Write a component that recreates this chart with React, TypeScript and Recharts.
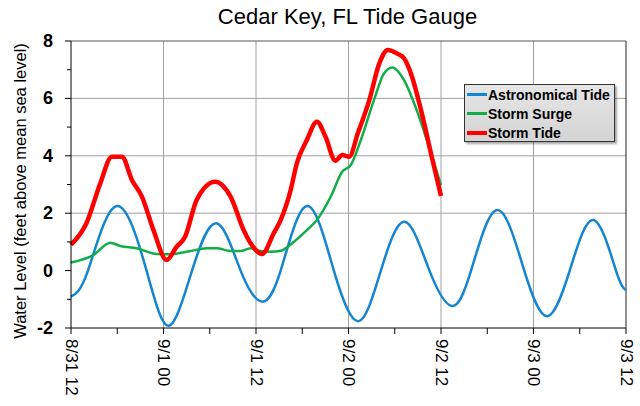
import React from 'react';
import { LineChart, Line, XAxis, YAxis, ReferenceLine } from 'recharts';

// hours after 8/31 12:00
const xTicks = [0, 6, 12, 18, 24, 30, 36, 42, 48, 54, 60, 66, 72];
const xTickLabels: { [h: number]: string } = {
  0: '8/31 12', 12: '9/1 00', 24: '9/1 12', 36: '9/2 00', 48: '9/2 12', 60: '9/3 00', 72: '9/3 12',
};
const yTicks = [-2, -1, 0, 1, 2, 3, 4, 5, 6, 7, 8];
const yGrid = [2, 4, 6];
const xGrid = [12, 24, 36, 48, 60];

const astroHours = [0, 2.2, 5.9, 9.8, 12.7, 15.7, 18.9, 22, 24.7, 27.2, 30.6, 34.1, 37.3, 40.2, 43.3, 46.5, 49.4, 51.9, 55.3, 58.8, 61.8, 64.7, 67.8, 70.7, 72];
const astroLevel = [-0.91, 0, 2.25, 0, -1.92, 0, 1.65, 0, -1.08, 0, 2.25, 0, -1.76, 0, 1.7, 0, -1.23, 0, 2.11, 0, -1.59, 0, 1.76, 0, -0.68];

const surgeHours = [0, 2.9, 5.1, 6.4, 8.5, 11.1, 12.9, 15.5, 17.6, 18.9, 20.7, 22, 23.3, 24.6, 25.9, 27.2, 28.9, 30.6, 31.9, 33.7, 35.2, 36.3, 37.6, 39.3, 40.6, 41.7, 43.2, 45, 46.7, 48];
const surgeLevel = [0.28, 0.54, 0.97, 0.86, 0.78, 0.58, 0.57, 0.68, 0.78, 0.78, 0.68, 0.68, 0.78, 0.68, 0.66, 0.69, 1.0, 1.41, 1.76, 2.58, 3.45, 3.68, 4.55, 5.94, 6.87, 7.08, 6.64, 5.48, 4.09, 2.98];

const stormHours = [0, 2, 3.8, 5.3, 6.6, 7.9, 9.2, 10.7, 12.4, 13.7, 14.8, 16.3, 18.7, 20.7, 22.4, 23.3, 24.8, 26.3, 27.2, 28.5, 29.3, 30.6, 31.9, 33, 34.3, 35.2, 36.1, 37.2, 38.7, 40, 41.1, 42.4, 43.2, 44.1, 45.4, 46.9, 48];
const stormLevel = [0.9, 1.65, 3.04, 3.97, 3.97, 3.16, 2.58, 1.41, 0.37, 0.83, 1.18, 2.46, 3.1, 2.58, 1.41, 0.95, 0.58, 1.3, 1.76, 2.81, 3.74, 4.55, 5.19, 4.67, 3.83, 4.03, 3.97, 4.78, 5.94, 7.22, 7.69, 7.55, 7.4, 6.87, 5.6, 3.85, 2.6];

const toRows = (hours: number[], vals: number[]) => hours.map((h, i) => ({ h, v: vals[i] }));

const series = [
  { name: 'Astronomical Tide', color: '#1485d2', width: 2.5, curve: 'natural', data: toRows(astroHours, astroLevel) },
  { name: 'Storm Surge', color: '#10ad48', width: 2.5, curve: 'monotone', data: toRows(surgeHours, surgeLevel) },
  { name: 'Storm Tide', color: '#ff0000', width: 4.5, curve: 'monotone', data: toRows(stormHours, stormLevel) },
];

const FONT = '"Liberation Sans", Arial, sans-serif';

const XTick = (props: any) => {
  const { x, y, payload } = props;
  const label = xTickLabels[payload.value];
  return (
    <g>
      <line x1={x} y1={y} x2={x} y2={y + 6} stroke="#000" strokeWidth={1} />
      {label && (
        <text x={x} y={y + 11} transform={`rotate(90, ${x}, ${y + 11})`} textAnchor="start"
          dominantBaseline="central" fontSize={17} fontFamily={FONT} fill="#000">
          {label}
        </text>
      )}
    </g>
  );
};

const YTick = (props: any) => {
  const { x, y, payload } = props;
  const major = payload.value % 2 === 0;
  return (
    <g>
      <line x1={x} y1={y} x2={x - (major ? 6 : 4)} y2={y} stroke="#000" strokeWidth={1} />
      {major && (
        <text x={x - 18} y={y} textAnchor="end" dominantBaseline="central" fontSize={18}
          fontWeight="bold" fontFamily={FONT} fill="#000">
          {payload.value}
        </text>
      )}
    </g>
  );
};

const LegendBox = () => (
  <div style={{
    position: 'absolute', left: 464, top: 84, zIndex: 2,
    width: 151, height: 58, boxSizing: 'border-box', border: '1px solid #333',
    background: 'linear-gradient(#e6e6e6, #d4d4d4)', boxShadow: '2px 2px 2px rgba(0,0,0,0.35)',
    padding: '0 0 0 2px', fontFamily: FONT, fontSize: 14, fontWeight: 'bold', color: '#000',
  }}>
    {series.map((s) => (
      <div key={s.name} style={{ display: 'flex', alignItems: 'center', height: 19 }}>
        <span style={{ display: 'inline-block', width: 20, height: s.width > 3 ? 4 : 2.5, background: s.color }} />
        <span style={{ marginLeft: 1 }}>{s.name}</span>
      </div>
    ))}
  </div>
);

export default function App() {
  return (
    <div style={{ position: 'absolute', left: 0, top: 0, width: 640, height: 406, background: '#fff' }}>
      <div style={{ position: 'absolute', left: 0, top: 4, width: 695, textAlign: 'center', fontFamily: FONT, fontSize: 22, color: '#000' }}>
        Cedar Key, FL Tide Gauge
      </div>
      <div style={{
        position: 'absolute', left: 20, top: 191, width: 320, marginLeft: -160, marginTop: -10, height: 20,
        transform: 'rotate(-90deg)', textAlign: 'center', fontFamily: FONT, fontSize: 16.5, lineHeight: '20px', color: '#000',
      }}>
        Water Level (feet above mean sea level)
      </div>
      <LineChart width={640} height={406} margin={{ top: 41, right: 14, bottom: 0, left: 0 }}>
        {yGrid.map((v) => (
          <ReferenceLine key={'y' + v} y={v} stroke="#a0a0a0" strokeWidth={1} />
        ))}
        {xGrid.map((h) => (
          <ReferenceLine key={'x' + h} x={h} stroke="#a0a0a0" strokeWidth={1} />
        ))}
        <ReferenceLine y={8} stroke="#555" strokeWidth={1} />
        <ReferenceLine x={72} stroke="#222" strokeWidth={1} />
        <XAxis type="number" dataKey="h" domain={[0, 72]} ticks={xTicks} interval={0} allowDuplicatedCategory={false}
          height={78} tickSize={0} tickMargin={0} tickLine={false} tick={XTick} axisLine={{ stroke: '#000' }} />
        <YAxis type="number" domain={[-2, 8]} ticks={yTicks} interval={0} width={71}
          tickSize={0} tickMargin={0} tickLine={false} tick={YTick} axisLine={{ stroke: '#000' }} />
        {series.map((s) => (
          <Line key={s.name} data={s.data} dataKey="v" name={s.name} type={s.curve as any} stroke={s.color}
            strokeWidth={s.width} dot={false} activeDot={false} isAnimationActive={false} />
        ))}
      </LineChart>
      <LegendBox />
    </div>
  );
}
